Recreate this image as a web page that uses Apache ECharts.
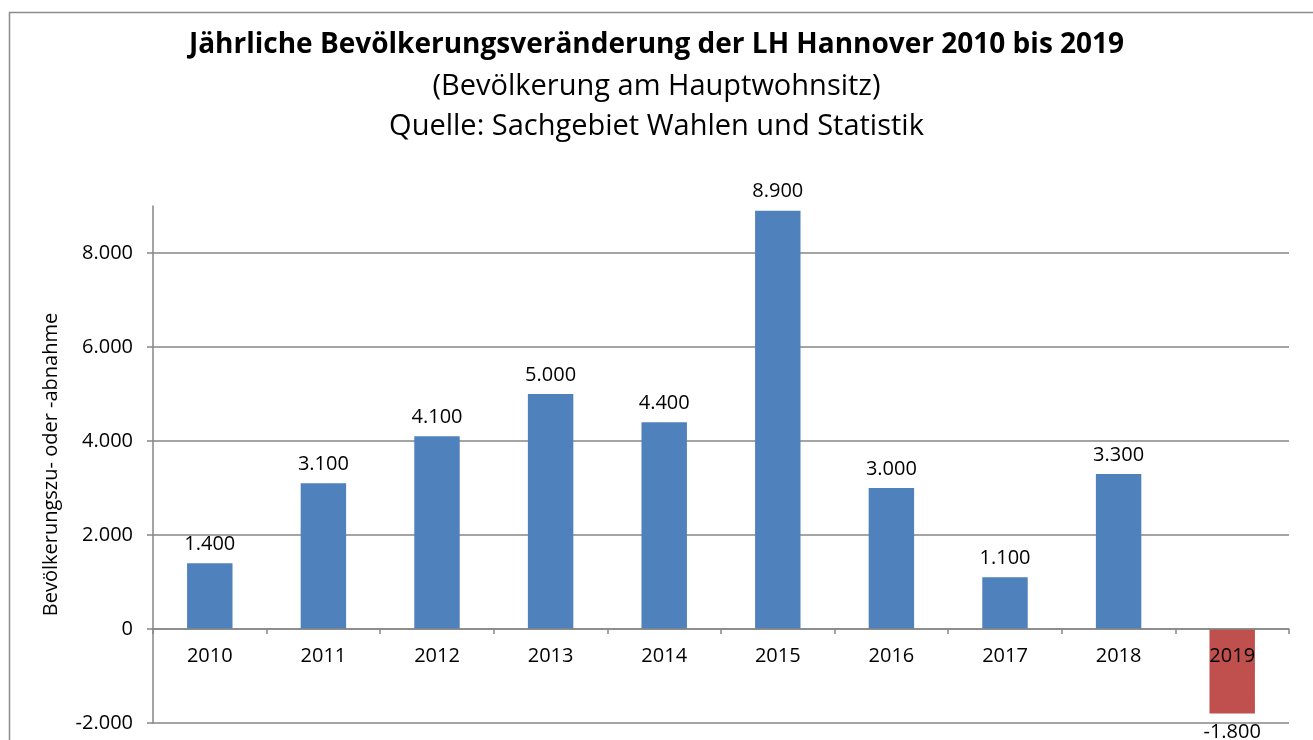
<!DOCTYPE html>
<html><head><meta charset="utf-8">
<script src="https://cdn.jsdelivr.net/npm/echarts@6/dist/echarts.min.js"></script>
<style>html,body{margin:0;padding:0;background:#fff}#c{width:1313px;height:740px}</style>
</head><body><div id="c"></div>
<script>
const categories = ['2010','2011','2012','2013','2014','2015','2016','2017','2018','2019'];
const values = [1400, 3100, 4100, 5000, 4400, 8900, 3000, 1100, 3300, -1800];
const yTicks = [-2000, 0, 2000, 4000, 6000, 8000];
const yMin = -2000, yMax = 9000;
const titleText = 'Jährliche Bevölkerungsveränderung der LH Hannover 2010 bis 2019';
const subtitleLines = ['(Bevölkerung am Hauptwohnsitz)', 'Quelle: Sachgebiet Wahlen und Statistik'];
const yName = 'Bevölkerungszu- oder -abnahme';

const fmt = v => {
  const s = Math.abs(v).toString().replace(/\B(?=(\d{3})+(?!\d))/g, '.');
  return (v < 0 ? '-' : '') + s;
};
const FONT = '"Open Sans", "DejaVu Sans", sans-serif';
const GRID = {left: 153, right: 24, top: 206, bottom: 17};
const gridH = 740 - GRID.top - GRID.bottom;
// shift the category axis up to the zero line (labels follow it)
const zeroOffset = -gridH * (0 - yMin) / (yMax - yMin);
const chart = echarts.init(document.getElementById('c'), null, {renderer: 'canvas'});
chart.setOption({
  animation: false,
  backgroundColor: '#fff',
  title: [{
    text: titleText,
    left: 'center', top: 26,
    textStyle: {fontFamily: FONT, fontWeight: 'bold', fontSize: 28, color: '#000'}
  }, {
    text: subtitleLines.join('\n'),
    left: 'center', top: 62,
    textStyle: {fontFamily: FONT, fontWeight: 'normal', fontSize: 29, color: '#000', lineHeight: 40}
  }],
  graphic: [{
    type: 'rect', left: 7, top: 10, silent: true,
    shape: {width: 1305, height: 740},
    style: {fill: 'none', stroke: '#8c8c8c', lineWidth: 1.5}
  }],
  grid: Object.assign({containLabel: false, outerBoundsMode: 'none'}, GRID),
  xAxis: {
    type: 'category', data: categories, position: 'bottom', offset: zeroOffset, z: 10,
    axisLine: {onZero: false, lineStyle: {color: '#868686', width: 1.5}},
    axisTick: {show: true, length: 5, lineStyle: {color: '#868686', width: 1.5}},
    axisLabel: {fontFamily: FONT, fontSize: 20, color: '#000', margin: 17, hideOverlap: false}
  },
  yAxis: {
    type: 'value', min: yMin, max: yMax, interval: 2000,
    name: yName, nameLocation: 'middle', nameGap: 92, nameRotate: 90,
    nameTextStyle: {fontFamily: FONT, fontSize: 20, color: '#000'},
    axisLine: {show: true, lineStyle: {color: '#868686', width: 1.5}},
    axisTick: {show: true, length: 6, customValues: yTicks, lineStyle: {color: '#868686', width: 1.5}},
    axisLabel: {fontFamily: FONT, fontSize: 20, color: '#000', margin: 20, customValues: yTicks, formatter: v => fmt(v)},
    splitLine: {show: true, lineStyle: {color: '#868686', width: 1.5}}
  },
  series: [{
    type: 'bar', barWidth: '40%', z: 2,
    data: values.map(v => ({value: v, itemStyle: {color: v < 0 ? '#C0504D' : '#4F81BD'}})),
    label: {show: true, position: 'outside', distance: 9, fontFamily: FONT, fontSize: 20, color: '#000',
      formatter: p => fmt(p.value)}
  }]
});
</script></body></html>
